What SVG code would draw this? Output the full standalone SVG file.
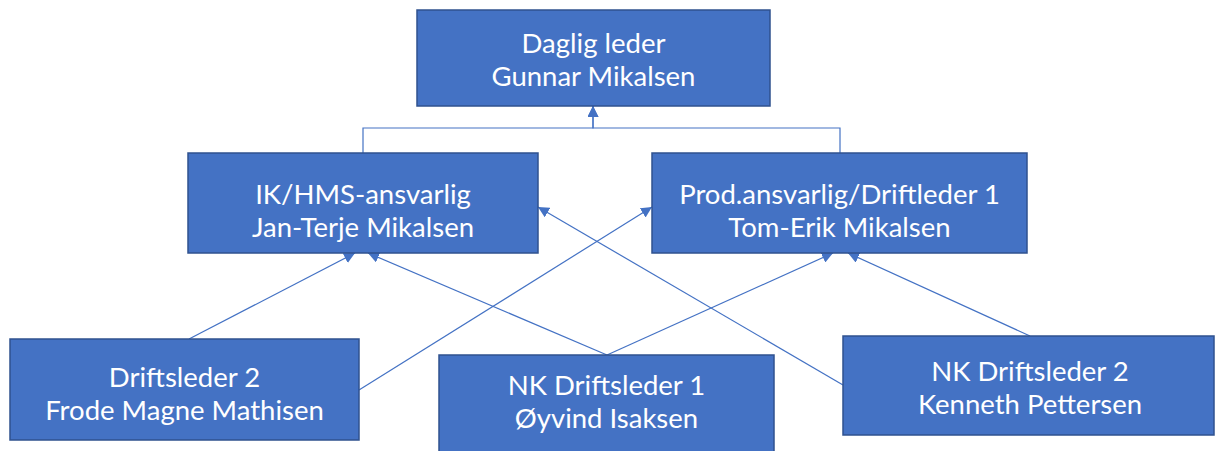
<svg xmlns="http://www.w3.org/2000/svg" width="1215" height="451" viewBox="0 0 1215 451">
<style>
.box{fill:#4472C4;stroke:#2F528F;stroke-width:1.5}
.t{font-family:Lato,"Open Sans","Liberation Sans",sans-serif;font-size:27.5px;fill:#FFFFFF;text-anchor:middle}
.c{fill:none;stroke:#4472C4;stroke-width:1.2}
</style>
<defs>
<marker id="ah" viewBox="0 0 10 10" refX="10" refY="5" markerWidth="11" markerHeight="11" markerUnits="userSpaceOnUse" orient="auto">
<path d="M0,0 L10,5 L0,10 z" fill="#4472C4"/>
</marker>
</defs>
<rect width="1215" height="451" fill="#FFFFFF"/>
<g id="connectors">
<path class="c" d="M363,153 V128 H593 V106" marker-end="url(#ah)"/>
<path class="c" d="M840,153 V128 H593 V106" marker-end="url(#ah)"/>
<path class="c" d="M189,339 L355,253" marker-end="url(#ah)"/>
<path class="c" d="M607,355 L368,253" marker-end="url(#ah)"/>
<path class="c" d="M607,355 L833,253" marker-end="url(#ah)"/>
<path class="c" d="M1030,336 L848,253" marker-end="url(#ah)"/>
<path class="c" d="M359,390 L652,207" marker-end="url(#ah)"/>
<path class="c" d="M843,385 L538,207" marker-end="url(#ah)"/>
</g>
<g id="daglig-leder">
<rect class="box" x="417" y="10" width="353" height="96"/>
<text class="t" x="593.5" y="53">Daglig leder</text>
<text class="t" x="593.5" y="86">Gunnar Mikalsen</text>
</g>
<g id="ik-hms">
<rect class="box" x="188" y="153" width="350" height="100"/>
<text class="t" x="363" y="204">IK/HMS-ansvarlig</text>
<text class="t" x="363" y="237">Jan-Terje Mikalsen</text>
</g>
<g id="prod">
<rect class="box" x="652" y="153" width="375" height="100"/>
<text class="t" x="839.5" y="204">Prod.ansvarlig/Driftleder 1</text>
<text class="t" x="839.5" y="237">Tom-Erik Mikalsen</text>
</g>
<g id="driftsleder2">
<rect class="box" x="10" y="339" width="349" height="101"/>
<text class="t" x="184.5" y="387">Driftsleder 2</text>
<text class="t" x="184.5" y="420">Frode Magne Mathisen</text>
</g>
<g id="nk-driftsleder1">
<rect class="box" x="439" y="355" width="335" height="100"/>
<text class="t" x="606.5" y="395">NK Driftsleder 1</text>
<text class="t" x="606.5" y="428">Øyvind Isaksen</text>
</g>
<g id="nk-driftsleder2">
<rect class="box" x="843" y="336" width="371" height="99"/>
<text class="t" x="1030" y="381">NK Driftsleder 2</text>
<text class="t" x="1030" y="414">Kenneth Pettersen</text>
</g>
</svg>
